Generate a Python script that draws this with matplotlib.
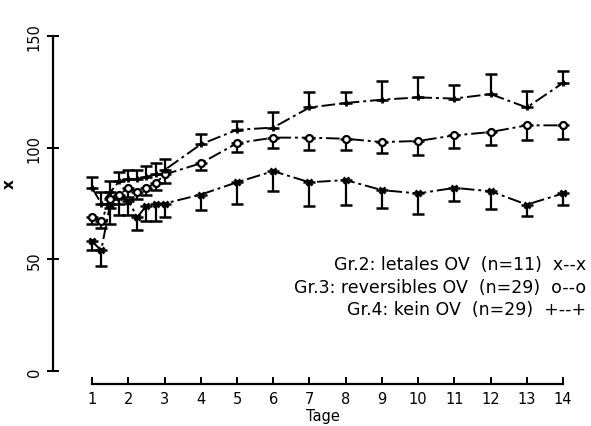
import matplotlib
matplotlib.use("Agg")
import matplotlib.pyplot as plt

# days (early days measured several times per day)
days = [1, 1.25, 1.5, 1.75, 2, 2.25, 2.5, 2.75, 3, 4, 5, 6, 7, 8, 9, 10, 11, 12, 13, 14]

# Gr.2: letales OV (n=11)
gr2 = [58, 54, 75, 78, 76, 69, 74, 75, 75, 79, 84.5, 89.5, 84.5, 85.5, 81, 79.5, 82, 80.5, 74.5, 79.5]
gr2_err = [4, 7, 9, 8, 6, 6, 7, 8, 6, 7, 9.5, 9, 10.5, 11, 8, 9, 6, 8, 5, 5]

# Gr.3: reversibles OV (n=29)
gr3 = [69, 67, 77, 79, 82, 80, 82, 84, 88, 93, 102, 104.5, 104.5, 104, 102.5, 103, 105.5, 107, 110, 110]
gr3_err = [3, 3, 4, 4, 4, 3, 3, 3, 4, 3, 4, 4.5, 5.5, 5, 5, 6.5, 5.5, 6, 6.5, 6]

# Gr.4: kein OV (n=29)
gr4 = [82, 75, 80, 85, 86, 86, 87, 88, 90, 101.5, 108, 109, 118, 120, 121.5, 122.5, 122, 124, 118, 129]
gr4_err = [5, 5, 5, 4, 4, 4, 5, 5, 5, 4.5, 4, 7, 7, 5, 8.5, 9, 6, 9, 7.5, 5.5]

legend_lines = ["Gr.2: letales OV  (n=11)  x--x",
                "Gr.3: reversibles OV  (n=29)  o--o",
                "Gr.4: kein OV  (n=29)  +--+"]

fig = plt.figure(figsize=(5.91, 4.27), dpi=100)
ax = fig.add_axes([0.0897, 0.1288, 0.912, 0.7845])

dash = (0, (7, 2, 1.5, 2))
series = [(gr2, gr2_err, "x", -1), (gr3, gr3_err, "o", -1), (gr4, gr4_err, "+", 1)]
for vals, err, mk, side in series:
    lower = err if side < 0 else [0] * len(err)
    upper = err if side > 0 else [0] * len(err)
    ax.errorbar(days, vals, yerr=[lower, upper], fmt="none", ecolor="black",
                elinewidth=1.6, capsize=4, capthick=1.8)
    if mk == "o":
        ax.plot(days, vals, color="black", linestyle=dash, linewidth=1.4,
                marker="o", markersize=5, markerfacecolor="white",
                markeredgewidth=1.6, markeredgecolor="black")
    else:
        ax.plot(days, vals, color="black", linestyle=dash, linewidth=1.4,
                marker=mk, markersize=5, markeredgewidth=2)

ax.set_xlim(-0.08, 14.8)
ax.set_ylim(0, 150)

for s in ["top", "right"]:
    ax.spines[s].set_visible(False)
ax.spines["left"].set_bounds(0, 150)
ax.spines["left"].set_linewidth(1.6)
ax.spines["bottom"].set_position(("outward", 9.5))
ax.spines["bottom"].set_bounds(1, 14)
ax.spines["bottom"].set_linewidth(1.6)

ax.set_xticks(range(1, 15))
ax.set_yticks([0, 50, 100, 150])
ax.tick_params(axis="x", direction="in", length=5, width=1.4, labelsize=10.5, pad=5)
ax.tick_params(axis="y", direction="inout", length=8, width=1.4, labelsize=10.5, pad=4)
for lab in ax.get_yticklabels():
    lab.set_rotation(90)
    lab.set_va("center")

ax.set_xlabel("Tage", fontsize=10.5, labelpad=1)
ax.set_ylabel("x", fontsize=11, fontweight="bold")
ax.yaxis.set_label_coords(-0.068, 0.56)

for i, txt in enumerate(legend_lines):
    ax.text(0.99, 0.319 - i * 0.067, txt, transform=ax.transAxes,
            ha="right", va="center", fontsize=12.5)

fig.savefig("out.png", dpi=100)
